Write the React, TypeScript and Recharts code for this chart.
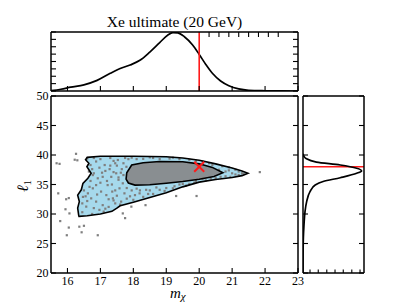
import React from 'react';
import { ComposedChart, Line, Scatter, XAxis, YAxis, ReferenceLine } from 'recharts';

// ---- tick values ----
const mTicks = [16, 17, 18, 19, 20, 21, 22, 23];
const lTicks = [20, 25, 30, 35, 40, 45, 50];
const topDensityTicks = [0, 0.125, 0.25, 0.375, 0.5, 0.625, 0.75, 0.875, 1];
const rightDensityTicks = [0.115, 0.25, 0.39, 0.525, 0.66, 0.8, 0.935];
const rightLTicks = [20, 25, 30, 35, 40, 45, 50];

// ---- truth ----
const trueM = 20;
const trueL = 38;
const truth = [{ m: trueM, l: trueL }];

// ---- marginal of m_chi (top panel) ----
const mMarginal = [
  { m: 15.5, d: 0.005 }, { m: 15.8, d: 0.03 }, { m: 16.1, d: 0.065 }, { m: 16.5, d: 0.105 },
  { m: 16.9, d: 0.18 }, { m: 17.3, d: 0.3 }, { m: 17.6, d: 0.38 }, { m: 17.9, d: 0.44 },
  { m: 18.2, d: 0.52 }, { m: 18.5, d: 0.66 }, { m: 18.8, d: 0.82 }, { m: 19.05, d: 0.95 },
  { m: 19.2, d: 0.99 }, { m: 19.35, d: 0.985 }, { m: 19.55, d: 0.92 }, { m: 19.8, d: 0.78 },
  { m: 20.0, d: 0.62 }, { m: 20.2, d: 0.45 }, { m: 20.4, d: 0.3 }, { m: 20.65, d: 0.17 },
  { m: 20.9, d: 0.09 }, { m: 21.2, d: 0.035 }, { m: 21.5, d: 0.012 }, { m: 22.0, d: 0.004 },
  { m: 22.5, d: 0.001 }, { m: 23.0, d: 0 },
];

// ---- marginal of l1 (right panel) ----
const lMarginal = [
  { l: 40.2, d: 0 }, { l: 39.8, d: 0.015 }, { l: 39.4, d: 0.05 }, { l: 38.8, d: 0.22 },
  { l: 38.3, d: 0.61 }, { l: 37.75, d: 0.88 }, { l: 37.3, d: 0.96 }, { l: 36.9, d: 0.88 },
  { l: 36.15, d: 0.61 }, { l: 35.5, d: 0.33 }, { l: 34.9, d: 0.2 }, { l: 33.8, d: 0.115 },
  { l: 32.1, d: 0.06 }, { l: 30.4, d: 0.033 }, { l: 28.1, d: 0.016 }, { l: 26, d: 0.006 },
  { l: 23, d: 0.001 }, { l: 20, d: 0 },
];

// ---- credible region contours ----
const outerContour = [
  { m: 16.35, l: 29.6 }, { m: 16.6, l: 29.7 }, { m: 17.0, l: 30.0 }, { m: 17.35, l: 30.45 },
  { m: 17.5, l: 31.0 }, { m: 17.6, l: 31.4 }, { m: 18.0, l: 32.0 }, { m: 18.5, l: 32.8 },
  { m: 19.0, l: 33.6 }, { m: 19.5, l: 34.6 }, { m: 20.0, l: 35.4 }, { m: 20.5, l: 35.85 },
  { m: 21.0, l: 36.2 }, { m: 21.3, l: 36.5 }, { m: 21.48, l: 36.9 }, { m: 21.3, l: 37.3 },
  { m: 21.0, l: 37.8 }, { m: 20.5, l: 38.5 }, { m: 20.0, l: 39.1 }, { m: 19.5, l: 39.5 },
  { m: 19.0, l: 39.7 }, { m: 18.0, l: 39.8 }, { m: 17.0, l: 39.8 }, { m: 16.6, l: 39.6 },
  { m: 16.55, l: 39.2 }, { m: 16.65, l: 38.6 }, { m: 16.59, l: 38.0 }, { m: 16.72, l: 36.9 },
  { m: 16.62, l: 36.05 }, { m: 16.47, l: 35.2 }, { m: 16.42, l: 34.1 }, { m: 16.31, l: 33.2 },
  { m: 16.36, l: 32.1 }, { m: 16.31, l: 31.0 }, { m: 16.34, l: 29.8 },
];

const innerContour = [
  { m: 17.78, l: 35.9 }, { m: 17.8, l: 37.0 }, { m: 17.95, l: 38.3 }, { m: 18.3, l: 38.7 },
  { m: 18.8, l: 38.9 }, { m: 19.5, l: 38.85 }, { m: 20.0, l: 38.5 }, { m: 20.4, l: 37.9 },
  { m: 20.72, l: 37.0 }, { m: 20.45, l: 36.35 }, { m: 20.0, l: 35.9 }, { m: 19.5, l: 35.5 },
  { m: 19.0, l: 35.2 }, { m: 18.5, l: 34.95 }, { m: 18.05, l: 34.9 }, { m: 17.85, l: 35.25 },
];

// ---- posterior samples ----
const sampleM = [
  15.67, 15.76, 16.26, 16.22, 16.3, 15.72, 15.96, 16.04, 15.94, 16.06, 15.78, 16.04, 16.36, 16.5,
  15.98, 16.43, 16.92, 17.94, 17.68, 17.75, 18.37, 19.3, 19.92, 21.84,
  16.87, 16.97, 17.13, 17.28, 16.77, 16.92, 17.07, 16.67, 16.77, 16.87, 16.62, 17.02, 17.18, 16.72,
  16.87, 17.07, 16.57, 16.97, 17.22, 17.33, 16.47, 17.36,
  16.6, 16.8, 17.0, 17.3, 16.75, 16.7, 16.5, 16.45, 16.75, 17.1, 17.25, 17.4, 17.2, 17.05, 16.8,
  17.45, 17.4, 16.6,
  17.48, 17.58, 17.73, 17.38, 17.63, 17.79, 17.53, 18.0, 18.19, 18.39, 17.55, 17.7, 17.65, 17.9,
  17.8, 18.1, 17.6, 17.5, 17.85, 18.1, 18.3, 17.95, 17.68,
  18.6, 18.8, 19.0, 19.2, 18.5, 18.3, 18.6, 18.8, 19.1, 19.4, 19.7, 20.1, 19.4, 19.7, 19.9, 20.2,
  20.5, 20.8, 21.1, 20.9, 21.2, 20.7, 20.4, 21.0, 21.3, 19.6, 20.9,
  17.35, 17.45, 17.5, 17.55, 17.62, 17.7, 17.75, 17.4, 17.3, 17.15, 17.0, 16.9, 17.25, 17.45,
  17.8, 18.05, 18.2, 18.45, 18.7, 18.95, 19.25, 19.5, 19.85, 20.1, 20.35, 20.65, 20.95, 21.2,
  21.35, 20.6, 20.8, 21.1, 20.3, 19.9, 19.2, 18.5, 17.95, 16.7, 16.65, 16.55, 16.45, 16.8, 17.15,
];
const sampleL = [
  38.6, 38.5, 40.2, 39.2, 39.1, 33.5, 32.5, 32.7, 30.8, 30.1, 28.8, 27.7, 27.85, 28.0,
  26.4, 26.9, 26.4, 31.25, 30.1, 29.3, 31.5, 33.05, 33.05, 37.1,
  38.9, 37.85, 38.3, 37.6, 36.6, 36.05, 36.3, 34.6, 34.35, 34.9, 33.5, 33.8, 33.2, 32.65,
  32.1, 31.5, 31.25, 30.7, 34.9, 36.3, 32.9, 33.8,
  39.4, 39.5, 39.3, 39.5, 37.6, 35.6, 34.0, 30.3, 30.0, 30.4, 31.2, 32.3, 35.6, 37.0, 36.9,
  38.6, 37.1, 32.2,
  36.9, 34.35, 33.5, 32.65, 32.1, 38.0, 39.15, 32.4, 33.5, 34.1, 35.8, 36.6, 37.6, 33.0,
  34.4, 34.3, 31.6, 38.2, 39.3, 39.3, 32.9, 34.0, 35.2,
  33.4, 34.1, 34.4, 34.35, 34.0, 39.35, 39.5, 39.3, 39.4, 39.3, 39.2, 38.9, 35.0, 35.1, 35.6, 35.7,
  36.1, 36.4, 36.7, 37.4, 37.2, 38.1, 38.3, 36.9, 36.9, 34.8, 37.9,
  35.0, 34.0, 33.1, 36.2, 37.0, 38.6, 39.5, 39.0, 38.2, 37.3, 35.3, 33.3, 32.5, 31.8,
  32.6, 33.2, 34.0, 33.4, 34.5, 33.9, 34.7, 35.1, 35.3, 36.0, 36.0, 36.3, 36.3, 36.6,
  36.8, 37.5, 37.2, 37.5, 38.6, 39.0, 39.55, 39.6, 39.55, 38.3, 37.2, 33.0, 31.8, 31.0, 30.9,
];
const samples = sampleM.map((m, i) => ({ m, l: sampleL[i] }));

// ---- styles ----
const FONT = '"Liberation Serif", "DejaVu Serif", serif';
const axisLine = { stroke: '#000', strokeWidth: 1.5 };
const abs: React.CSSProperties = { position: 'absolute', left: 0, top: 0 };

const Nothing = () => <g />;
const Dot = (p: any) => (
  <rect x={p.cx - 1.1} y={p.cy - 1.1} width={2.2} height={2.2} fill="#7f7f7f" />
);
const Cross = (p: any) => (
  <g stroke="#ff1a1a" strokeWidth={2}>
    <line x1={p.cx - 5} y1={p.cy - 5} x2={p.cx + 5} y2={p.cy + 5} />
    <line x1={p.cx - 5} y1={p.cy + 5} x2={p.cx + 5} y2={p.cy - 5} />
  </g>
);

// tick renderers: (x, y) is the point on the axis line; ticks point inward
const makeTick = (side: 'bottom' | 'top' | 'left' | 'right', len: number, label: boolean) => (p: any) => {
  const { x, y, payload } = p;
  let line;
  if (side === 'bottom') line = <line x1={x} x2={x} y1={y} y2={y - len} />;
  else if (side === 'top') line = <line x1={x} x2={x} y1={y} y2={y + len} />;
  else if (side === 'left') line = <line x1={x} x2={x + len} y1={y} y2={y} />;
  else line = <line x1={x} x2={x - len} y1={y} y2={y} />;
  return (
    <g>
      <g stroke="#000" strokeWidth={1.1}>{line}</g>
      {label && side === 'bottom' && (
        <text x={x} y={y + 12} textAnchor="middle" fontFamily={FONT} fontSize={12} fill="#000">{payload.value}</text>
      )}
      {label && side === 'left' && (
        <text x={x - 2.5} y={y + 4.2} textAnchor="end" fontFamily={FONT} fontSize={12} fill="#000">{payload.value}</text>
      )}
    </g>
  );
};

const common = { type: 'number' as const, allowDataOverflow: true, interval: 0, tickSize: 0, tickMargin: 0, axisLine, tickLine: false };

function MainPanel() {
  return (
    <div style={abs}>
      <ComposedChart width={405} height={304} margin={{ top: 91, right: 102, bottom: 11, left: 21 }}>
        <XAxis {...common} dataKey="m" domain={[15.5, 23]} ticks={mTicks} height={20} tick={makeTick('bottom', 5, true)} />
        <XAxis {...common} xAxisId="top" orientation="top" domain={[15.5, 23]} ticks={mTicks} height={5} tick={makeTick('top', 5, false)} />
        <YAxis {...common} dataKey="l" domain={[20, 50]} ticks={lTicks} width={30} tick={makeTick('left', 5, true)} />
        <YAxis {...common} yAxisId="right" orientation="right" domain={[20, 50]} ticks={lTicks} width={5} tick={makeTick('right', 5, false)} />
        <Scatter data={outerContour} shape={Nothing} isAnimationActive={false} lineType="joint"
          lineJointType="linearClosed" line={{ fill: '#a6d9ec', stroke: 'none' }} />
        <Scatter data={innerContour} shape={Nothing} isAnimationActive={false} lineType="joint"
          lineJointType="linearClosed" line={{ fill: '#898e91', stroke: 'none' }} />
        <Scatter data={samples} shape={Dot} isAnimationActive={false} />
        <Scatter data={outerContour} shape={Nothing} isAnimationActive={false} lineType="joint"
          lineJointType="linearClosed" line={{ fill: 'none', stroke: '#000', strokeWidth: 1.6 }} />
        <Scatter data={innerContour} shape={Nothing} isAnimationActive={false} lineType="joint"
          lineJointType="linearClosed" line={{ fill: 'none', stroke: '#000', strokeWidth: 1.6 }} />
        <Scatter data={truth} shape={Cross} isAnimationActive={false} />
      </ComposedChart>
    </div>
  );
}

function TopPanel() {
  return (
    <div style={abs}>
      <ComposedChart width={405} height={304} data={mMarginal} margin={{ top: 27, right: 102, bottom: 208, left: 46 }}>
        <XAxis {...common} dataKey="m" domain={[15.5, 23]} ticks={mTicks} height={5} tick={makeTick('bottom', 5, false)} />
        <XAxis {...common} xAxisId="top" orientation="top" domain={[15.5, 23]} ticks={mTicks} height={5} tick={makeTick('top', 5, false)} />
        <YAxis {...common} domain={[0, 1]} ticks={topDensityTicks} width={5} tick={makeTick('left', 5, false)} />
        <YAxis {...common} yAxisId="right" orientation="right" domain={[0, 1]} ticks={topDensityTicks} width={5} tick={makeTick('right', 5, false)} />
        <Line dataKey="d" type="monotone" dot={false} stroke="#000" strokeWidth={1.7} isAnimationActive={false} />
        <ReferenceLine x={trueM} stroke="#ff1a1a" strokeWidth={1.6} />
      </ComposedChart>
    </div>
  );
}

function RightPanel() {
  return (
    <div style={abs}>
      <ComposedChart width={405} height={304} margin={{ top: 91, right: 36, bottom: 26, left: 298 }}>
        <XAxis {...common} dataKey="d" domain={[0, 1]} ticks={rightDensityTicks} height={5} tick={makeTick('bottom', 3.5, false)} />
        <XAxis {...common} xAxisId="top" orientation="top" domain={[0, 1]} ticks={rightDensityTicks} height={5} tick={makeTick('top', 3.5, false)} />
        <YAxis {...common} dataKey="l" domain={[20, 50]} ticks={rightLTicks} width={5} tick={makeTick('left', 5, false)} />
        <YAxis {...common} yAxisId="right" orientation="right" domain={[20, 50]} ticks={rightLTicks} width={5} tick={makeTick('right', 5, false)} />
        <Scatter data={lMarginal} shape={Nothing} isAnimationActive={false} lineType="joint"
          lineJointType="monotoneY" line={{ fill: 'none', stroke: '#000', strokeWidth: 1.7 }} />
        <ReferenceLine y={trueL} stroke="#ff1a1a" strokeWidth={1.6} />
      </ComposedChart>
    </div>
  );
}

export default function App() {
  return (
    <div style={{ position: 'absolute', left: 0, top: 0, width: 405, height: 304, background: '#fff', overflow: 'hidden' }}>
      <TopPanel />
      <MainPanel />
      <RightPanel />
      <div style={{ position: 'absolute', left: 51, top: 12, width: 247, textAlign: 'center', fontFamily: FONT,
        fontSize: 15.5, lineHeight: '19px', color: '#000', whiteSpace: 'nowrap' }}>
        Xe ultimate (20 GeV)
      </div>
      <svg width={405} height={304} style={{ position: 'absolute', left: 0, top: 0, pointerEvents: 'none' }}>
        <text x={170} y={297.5} fontFamily={FONT} fontStyle="italic" fontSize={15} fill="#000">
          m<tspan fontSize={11} dy={2.5}>χ</tspan>
        </text>
        <text x={28} y={192} transform="rotate(-90 28 192)" fontFamily={FONT} fontStyle="italic" fontSize={16} fill="#000">
          ℓ<tspan fontSize={10} dy={3} fontStyle="normal">1</tspan>
        </text>
      </svg>
    </div>
  );
}
